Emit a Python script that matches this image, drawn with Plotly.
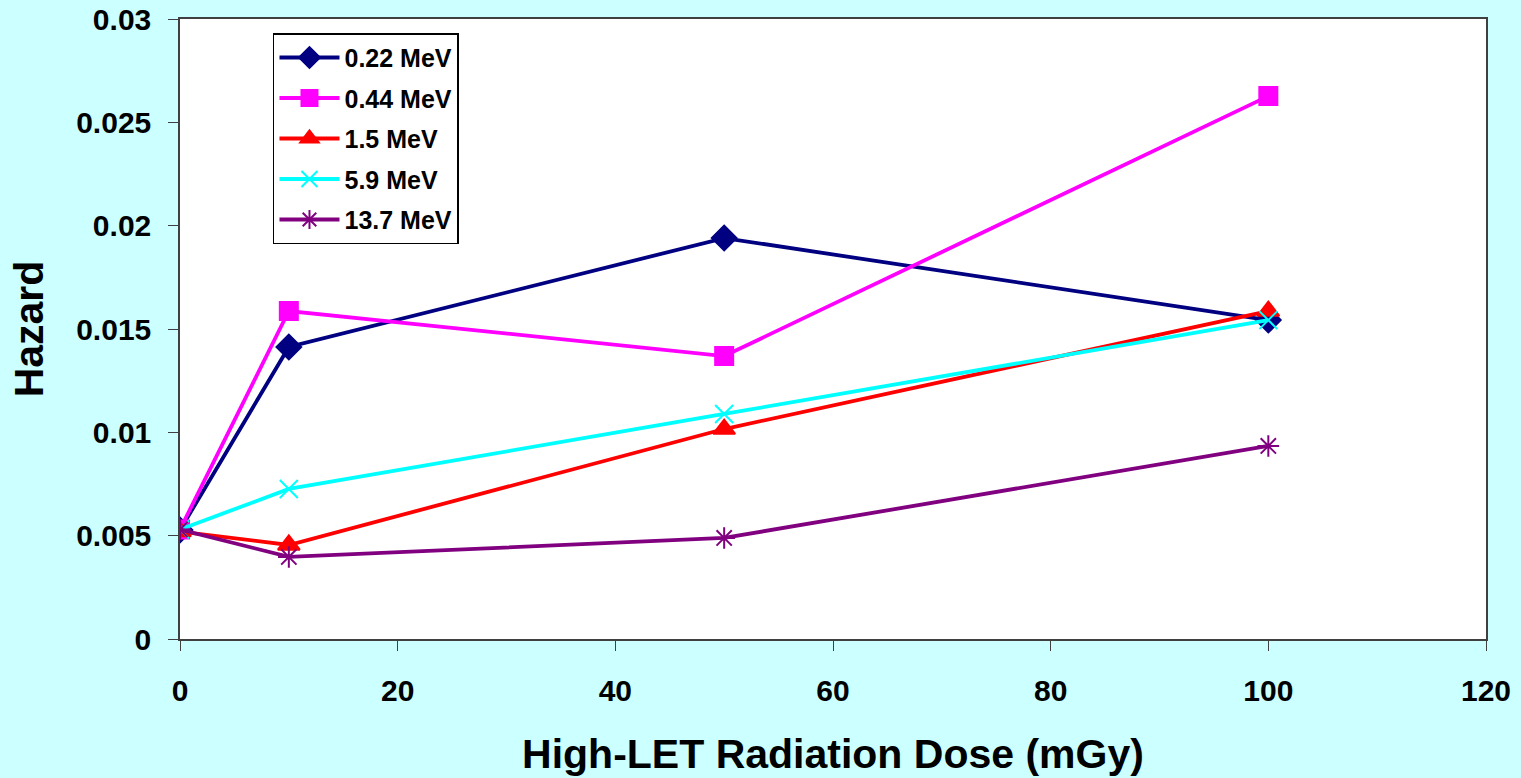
import plotly.graph_objects as go

# Dose levels (mGy) and hazard per energy group
dose = [0, 10, 50, 100]
hazard_022 = [0.00527, 0.01413, 0.0194, 0.01543]
hazard_044 = [0.0053, 0.01587, 0.01369, 0.02627]
hazard_15 = [0.0052, 0.00455, 0.01016, 0.01587]
hazard_59 = [0.0053, 0.00726, 0.01089, 0.01543]
hazard_137 = [0.0053, 0.00397, 0.00489, 0.00934]

series = [
    ("0.22 MeV", hazard_022, "#000080", "diamond", 19),
    ("0.44 MeV", hazard_044, "#FF00FF", "square", 18),
    ("1.5 MeV", hazard_15, "#FF0000", "triangle-up", 19),
    ("5.9 MeV", hazard_59, "#00FFFF", "x-thin-open", 18),
    ("13.7 MeV", hazard_137, "#800080", "asterisk-open", 18),
]

fig = go.Figure()
for name, ys, color, symbol, size in series:
    fig.add_trace(go.Scatter(
        x=dose, y=ys, name=name, legendgroup=name, mode="lines+markers",
        line=dict(color=color, width=3.8),
        marker=dict(symbol=symbol, size=size, color=color,
                    line=dict(color=color, width=2)),
    ))

font = "Liberation Sans, Arial, sans-serif"
fig.update_layout(
    width=1521, height=778,
    paper_bgcolor="#CCFFFF", plot_bgcolor="#FFFFFF",
    margin=dict(l=180, r=35, t=19, b=139, autoexpand=False),
    font=dict(family=font, color="#000000"),
    showlegend=True,
    legend=dict(
        x=0.0712, y=0.977, xanchor="left", yanchor="top",
        bgcolor="#FFFFFF", bordercolor="#000000", borderwidth=1.5,
        font=dict(family=font, size=25, color="#000000", weight="bold"),
        tracegroupgap=5, itemwidth=60,
    ),
    xaxis=dict(
        range=[0, 120], tickvals=[0, 20, 40, 60, 80, 100, 120],
        ticks="outside", ticklen=10, tickcolor="#404040",
        showgrid=False, zeroline=False, automargin=False,
        showline=True, linecolor="#404040", linewidth=1.5, mirror=True,
        tickfont=dict(family=font, size=30, weight="bold"),
        ticklabelstandoff=14,
        title=dict(text="High-LET Radiation Dose (mGy)", standoff=34,
                   font=dict(family=font, size=41, weight="bold")),
    ),
    yaxis=dict(
        range=[0, 0.03], tickvals=[0, 0.005, 0.01, 0.015, 0.02, 0.025, 0.03],
        ticktext=["0", "0.005", "0.01", "0.015", "0.02", "0.025", "0.03"],
        ticks="outside", ticklen=10, tickcolor="#404040",
        showgrid=False, zeroline=False, automargin=False,
        showline=True, linecolor="#404040", linewidth=1.5, mirror=True,
        tickfont=dict(family=font, size=30, weight="bold"),
        ticklabelstandoff=11,
        title=dict(text="Hazard", standoff=20,
                   font=dict(family=font, size=41, weight="bold")),
    ),
)

fig.write_html("out.html")
